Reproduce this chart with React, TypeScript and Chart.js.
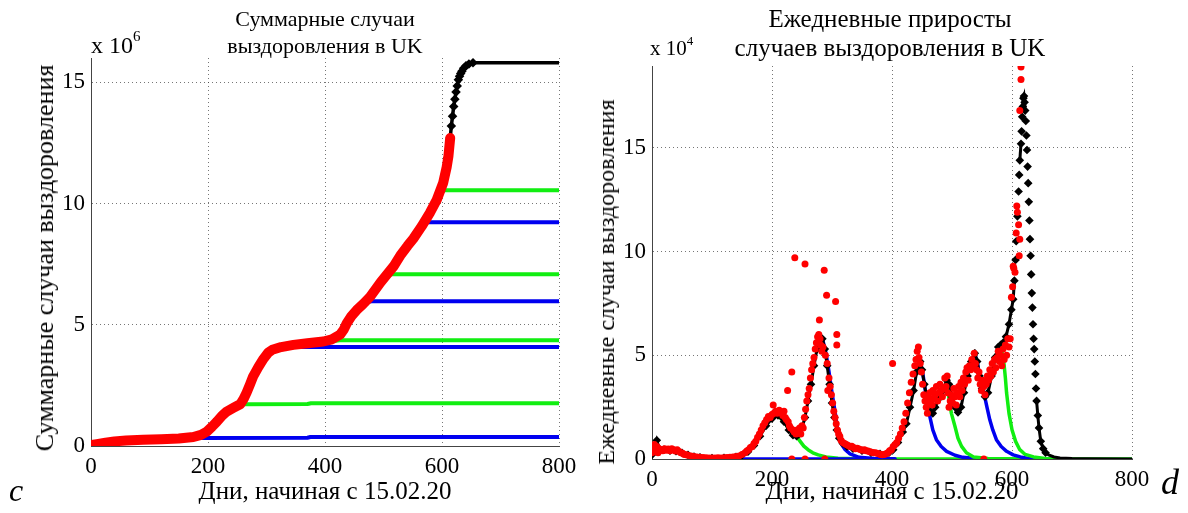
import React, { useEffect, useRef } from "react";
import { Chart, registerables } from "chart.js";

Chart.register(...registerables);

const FONT = '"Liberation Serif", "Times New Roman", serif';

// ---------- Left panel: cumulative recoveries (x 10^6) ----------
const xTicks = [0, 200, 400, 600, 800];
const leftYTicks = [0, 5, 10, 15];
const rightYTicks = [0, 5, 10, 15];

const redCumulative: [number, number][] = [
  [0, 0.04], [10, 0.08], [25, 0.14], [40, 0.19], [60, 0.23], [89, 0.26], [120, 0.28], [150, 0.31],
  [175, 0.37], [188, 0.46], [198, 0.59], [207, 0.8], [215, 1.0], [224, 1.25], [232, 1.42], [244, 1.58],
  [255, 1.72], [261, 1.95], [266, 2.2], [272, 2.55], [277, 2.86], [286, 3.25], [295, 3.6], [303, 3.85],
  [310, 3.97], [325, 4.08], [346, 4.17], [370, 4.24], [397, 4.31], [412, 4.4], [426, 4.6], [432, 4.8],
  [437, 5.05], [445, 5.35], [454, 5.6], [465, 5.85], [477, 6.15], [486, 6.45], [495, 6.75], [505, 7.05],
  [517, 7.4], [530, 7.9], [541, 8.25], [551, 8.55], [565, 9.05], [579, 9.6], [591, 10.15], [602, 10.85],
  [608, 11.5], [611, 11.95], [614, 12.7],
];
const blackCumulative: [number, number][] = [
  [605, 11.2], [610, 11.9], [614, 12.7], [616, 13.2], [618, 13.6], [620, 14.0], [622, 14.3], [624, 14.6],
  [626, 14.85], [628, 15.1], [630, 15.25], [632, 15.36], [634, 15.45], [637, 15.58], [641, 15.68],
  [646, 15.75], [653, 15.8], [700, 15.8], [800, 15.8],
];
const blueCum1: [number, number][] = [[176, 0.33], [190, 0.33], [370, 0.34], [375, 0.37], [800, 0.37]];
const greenCum1: [number, number][] = [[250, 1.66], [262, 1.72], [370, 1.73], [376, 1.76], [800, 1.76]];
const blueCum2: [number, number][] = [[330, 4.06], [345, 4.08], [800, 4.08]];
const greenCum2: [number, number][] = [[415, 4.33], [425, 4.36], [800, 4.36]];
const blueCum3: [number, number][] = [[470, 5.94], [480, 5.97], [800, 5.97]];
const greenCum3: [number, number][] = [[505, 7.05], [515, 7.08], [800, 7.08]];
const blueCum4: [number, number][] = [[565, 9.2], [572, 9.23], [800, 9.23]];
const greenCum4: [number, number][] = [[597, 10.5], [605, 10.55], [800, 10.55]];

// ---------- Right panel: daily increments (x 10^4) ----------
const redDaily: [number, number][] = [
  [0, 0.3], [2, 0.5], [4, 0.7], [6, 0.4], [8, 0.6], [10, 0.3], [12, 0.5], [15, 0.45], [18, 0.4], [21, 0.5],
  [24, 0.42], [27, 0.48], [30, 0.4], [33, 0.5], [36, 0.45], [39, 0.38], [42, 0.44], [45, 0.36], [48, 0.3],
  [51, 0.28], [54, 0.22], [57, 0.2], [60, 0.18], [65, 0.15], [70, 0.12], [75, 0.1], [80, 0.08], [85, 0.07],
  [90, 0.06], [95, 0.05], [100, 0.05], [105, 0.05], [110, 0.06], [115, 0.05], [120, 0.06], [125, 0.07],
  [130, 0.08], [135, 0.1], [140, 0.12], [145, 0.15], [150, 0.22], [155, 0.3], [158, 0.38], [161, 0.45],
  [164, 0.55], [167, 0.6], [170, 0.75], [173, 0.85], [176, 1.05], [179, 1.2], [182, 1.4], [185, 1.6],
  [188, 1.75], [191, 1.9], [194, 2.05], [197, 2.0], [200, 2.15], [202, 2.6], [203, 2.2], [206, 2.3],
  [209, 2.2], [212, 2.35], [215, 2.25], [218, 2.1], [220, 2.3], [222, 2.0], [224, 1.9], [226, 3.3],
  [227, 1.8], [229, 1.6], [231, 1.5], [233, 4.2], [233, 0], [235, 1.4], [237, 1.3], [238, 9.7], [240, 1.2],
  [242, 1.4], [244, 1.3], [246, 1.5], [248, 1.2], [250, 1.6], [252, 1.5], [254, 2.0], [255, 9.4], [255, 0],
  [256, 2.4], [258, 2.8], [260, 3.1], [262, 3.4], [264, 3.9], [266, 4.3], [268, 4.6], [270, 4.9], [272, 5.3],
  [274, 5.6], [276, 5.9], [278, 6.0], [279, 6.7], [280, 5.8], [281, 5.5], [283, 5.2], [285, 5.4], [287, 9.1],
  [288, 0], [289, 5.0], [291, 7.9], [292, 4.6], [293, 3.3], [295, 3.9], [297, 3.5], [299, 3.1], [301, 2.7],
  [303, 2.3], [305, 2.0], [306, 7.6], [307, 1.7], [308, 6.0], [308, 5.5], [309, 1.4], [311, 1.2], [313, 1.1],
  [315, 0.9], [318, 0.8], [321, 0.75], [324, 0.7], [327, 0.65], [330, 0.6], [333, 0.62], [336, 0.55],
  [339, 0.5], [342, 0.52], [345, 0.48], [348, 0.45], [351, 0.42], [354, 0.45], [357, 0.4], [360, 0.38],
  [363, 0.35], [366, 0.33], [369, 0.3], [372, 0.3], [375, 0.28], [378, 0.25], [381, 0.22], [384, 0.2],
  [387, 0.22], [390, 0.25], [393, 0.3], [396, 0.4], [399, 0.45], [401, 4.6], [402, 0.6], [405, 0.7],
  [408, 0.8], [411, 1.0], [414, 1.2], [417, 1.5], [420, 1.8], [423, 2.2], [426, 2.7], [429, 3.2], [432, 3.7],
  [435, 4.1], [438, 4.5], [440, 4.8], [442, 5.2], [444, 5.4], [445, 4.9], [447, 4.6], [449, 4.2], [451, 3.6],
  [453, 3.1], [455, 2.8], [457, 2.5], [459, 2.2], [460, 3.0], [462, 2.7], [463, 3.2], [465, 2.9], [467, 2.6],
  [468, 3.3], [470, 2.9], [472, 3.1], [474, 3.5], [476, 2.8], [478, 3.2], [480, 3.6], [482, 3.3], [484, 3.0],
  [486, 3.4], [488, 3.9], [490, 3.5], [492, 4.0], [493, 3.2], [495, 2.5], [497, 2.8], [499, 3.1], [501, 2.7],
  [503, 3.4], [505, 3.0], [507, 2.6], [509, 3.2], [511, 3.5], [513, 3.0], [515, 3.7], [517, 3.3], [519, 3.9],
  [521, 3.6], [523, 4.2], [525, 4.4], [527, 3.8], [529, 4.5], [531, 4.3], [533, 4.8], [535, 4.5], [537, 5.1],
  [539, 4.6], [541, 4.3], [543, 3.9], [545, 4.2], [547, 3.6], [549, 3.3], [551, 3.8], [553, 0], [553, 3.5],
  [555, 3.1], [557, 3.6], [559, 4.0], [561, 3.8], [563, 4.3], [565, 4.0], [567, 4.6], [569, 4.2], [571, 4.8],
  [573, 4.4], [575, 4.9], [577, 5.2], [579, 4.7], [581, 5.0], [583, 4.5], [585, 5.3], [587, 4.8], [589, 5.5],
  [591, 5.0], [593, 5.8], [595, 5.4], [597, 5.8], [599, 7.8], [601, 8.3], [602, 9.3], [603, 9.2], [605, 9.0],
  [607, 10.9], [608, 12.2], [609, 11.9], [611, 11.3], [612, 9.8], [613, 10.6], [613, 16.8], [615, 18.3],
  [615, 18.9],
];
const blackDaily: [number, number][] = [
  [0, 0.2], [4, 0.5], [8, 0.9], [12, 0.5], [20, 0.45], [30, 0.4], [40, 0.38], [50, 0.3], [60, 0.2], [70, 0.12],
  [80, 0.08], [100, 0.05], [120, 0.06], [140, 0.1], [150, 0.18], [160, 0.35], [170, 0.65], [180, 1.1],
  [190, 1.6], [200, 1.95], [210, 2.1], [215, 2.05], [220, 1.8], [228, 1.4], [235, 1.15], [241, 1.1],
  [245, 1.2], [250, 1.5], [255, 2.0], [260, 2.8], [265, 3.6], [270, 4.5], [275, 5.3], [280, 5.75], [284, 5.8],
  [288, 5.3], [292, 4.5], [296, 3.6], [300, 2.7], [304, 2.0], [308, 1.4], [312, 1.0], [318, 0.75], [325, 0.6],
  [335, 0.5], [350, 0.4], [365, 0.3], [380, 0.25], [395, 0.3], [402, 0.45], [410, 0.8], [418, 1.3], [424, 1.7],
  [430, 2.5], [436, 3.3], [441, 4.2], [444, 4.5], [447, 4.7], [450, 4.3], [454, 3.6], [457, 3.1], [461, 2.6],
  [464, 2.3], [468, 2.2], [472, 2.5], [478, 2.9], [485, 3.3], [491, 3.8], [495, 3.6], [500, 3.0], [505, 2.5],
  [510, 2.25], [515, 2.5], [520, 3.2], [526, 4.0], [532, 4.7], [538, 5.1], [542, 4.7], [546, 4.0], [550, 3.4],
  [555, 3.0], [560, 3.2], [566, 4.0], [572, 4.9], [577, 5.4], [581, 5.5], [585, 5.6], [590, 5.9], [595, 6.5],
  [599, 7.2], [602, 7.7], [604, 8.6], [606, 9.6], [607, 10.5], [609, 11.7], [611, 12.9], [612, 13.7],
  [613, 14.4], [615, 15.2], [616, 15.8], [617, 16.5], [618, 17.0], [619, 17.4], [620, 17.5], [621, 17.2],
  [622, 16.8], [623, 16.3], [624, 15.6], [625, 14.9], [626, 14.1], [627, 13.3], [628, 12.4], [629, 11.5],
  [630, 10.6], [631, 9.8], [632, 8.9], [633, 8.0], [634, 7.3], [635, 6.5], [636, 5.8], [637, 5.3], [638, 4.7],
  [639, 4.1], [640, 3.4], [641, 2.8], [643, 2.1], [645, 1.5], [648, 0.85], [652, 0.5], [656, 0.3], [661, 0.2],
  [670, 0.1], [680, 0.05], [700, 0.02], [720, 0.01], [800, 0],
];
const greenDailyA: [number, number][] = [
  [200, 1.95], [210, 2.1], [220, 1.8], [230, 1.4], [241, 1.09], [247, 0.85], [253, 0.62], [260, 0.45],
  [268, 0.3], [277, 0.2], [290, 0.1], [310, 0.04], [340, 0.01], [400, 0], [800, 0],
];
const blueBaseline: [number, number][] = [[148, 0], [250, 0], [405, 0]];
const blueDailyA: [number, number][] = [
  [282, 5.75], [285, 5.7], [290, 5.1], [295, 4.2], [300, 3.2], [305, 2.3], [311, 1.09], [316, 0.7],
  [322, 0.45], [330, 0.25], [345, 0.08], [370, 0.02], [405, 0],
];
const blueDailyB: [number, number][] = [
  [446, 4.65], [448, 4.6], [452, 4.0], [457, 3.0], [463, 2.05], [468, 1.4], [474, 0.93], [482, 0.6],
  [491, 0.37], [505, 0.18], [518, 0.08], [540, 0.02], [575, 0],
];
const greenDailyB: [number, number][] = [
  [491, 3.75], [494, 3.1], [499, 2.2], [505, 1.57], [510, 1.0], [516, 0.61], [524, 0.3],
  [536, 0.1], [560, 0.02], [610, 0],
];
const blueDailyC: [number, number][] = [
  [538, 5.05], [542, 4.7], [546, 4.0], [550, 3.4], [555, 2.94], [559, 2.4], [563, 1.89],
  [568, 1.4], [574, 0.93], [582, 0.6], [591, 0.37], [602, 0.2], [614, 0.1], [625, 0.04], [640, 0],
];
const greenDailyC: [number, number][] = [
  [583, 5.2], [586, 4.79], [589, 3.9], [591, 3.18], [595, 2.2], [600, 1.41],
  [606, 0.85], [613, 0.45], [622, 0.22], [636, 0.1], [655, 0.03], [680, 0],
];

const RED = "#ff0000";
const BLUE = "#0000f0";
const GREEN = "#11ee11";
const BLACK = "#000000";
const GRID = "rgba(60,60,60,0.7)";
const AXIS = "#444444";

const toXY = (arr: [number, number][]) => arr.map(([x, y]) => ({ x, y }));

function lineDs(data: [number, number][], color: string, width: number, order: number) {
  return {
    data: toXY(data),
    showLine: true,
    borderColor: color,
    backgroundColor: color,
    borderWidth: width,
    pointRadius: 0,
    borderCapStyle: "round" as const,
    borderJoinStyle: "round" as const,
    order,
  };
}

function makeScales(yMax: number, yTickVals: number[], yWidth: number, xHeight: number, xTickPad: number) {
  return {
    x: {
      type: "linear" as const,
      min: 0,
      max: 800,
      afterBuildTicks: (s: any) => {
        s.ticks = xTicks.map((v) => ({ value: v }));
      },
      afterFit: (s: any) => {
        s.height = xHeight;
      },
      ticks: {
        font: { family: FONT, size: 23 },
        color: "#000",
        padding: xTickPad,
        maxRotation: 0,
        autoSkip: false,
      },
      grid: { color: GRID, lineWidth: 1, drawTicks: false },
      border: { display: true, color: AXIS, width: 1, dash: [1, 3] },
      title: {
        display: true,
        text: "Дни, начиная с 15.02.20",
        font: { family: FONT, size: 25 },
        color: "#000",
        padding: { top: 0, bottom: 6 },
      },
    },
    y: {
      type: "linear" as const,
      min: 0,
      max: yMax,
      afterBuildTicks: (s: any) => {
        s.ticks = yTickVals.map((v) => ({ value: v }));
      },
      afterFit: (s: any) => {
        s.width = yWidth;
      },
      ticks: {
        font: { family: FONT, size: 23 },
        color: "#000",
        padding: 6,
        autoSkip: false,
      },
      grid: { color: GRID, lineWidth: 1, drawTicks: false },
      border: { display: true, color: AXIS, width: 1, dash: [1, 3] },
      title: { display: false },
    },
  };
}

export default function App() {
  const leftRef = useRef<HTMLCanvasElement>(null);
  const rightRef = useRef<HTMLCanvasElement>(null);

  useEffect(() => {
    const left = new Chart(leftRef.current!, {
      type: "scatter",
      data: {
        datasets: [
          lineDs(blueCum1, BLUE, 4, 10),
          lineDs(greenCum1, GREEN, 4, 9),
          lineDs(blueCum2, BLUE, 4, 8),
          lineDs(greenCum2, GREEN, 4, 7),
          lineDs(blueCum3, BLUE, 4, 6),
          lineDs(greenCum3, GREEN, 4, 5),
          lineDs(blueCum4, BLUE, 4, 4),
          lineDs(greenCum4, GREEN, 4, 3),
          {
            ...lineDs(blackCumulative, BLACK, 3.5, 2),
            pointRadius: (ctx: any) => (ctx.raw && ctx.raw.x < 660 ? 2.3 : 0),
            pointStyle: "rectRot",
          },
          lineDs(redCumulative, RED, 10, 1),
        ],
      },
      options: {
        animation: false,
        responsive: false,
        maintainAspectRatio: false,
        events: [],
        plugins: { legend: { display: false }, tooltip: { enabled: false }, title: { display: false } },
        layout: { padding: { left: 0, right: 35, top: 58, bottom: 0 } },
        scales: makeScales(16, leftYTicks, 91, 67, 7) as any,
      },
    });

    const right = new Chart(rightRef.current!, {
      type: "scatter",
      data: {
        datasets: [
          lineDs(greenDailyA, GREEN, 3.5, 13),
          lineDs(blueBaseline, BLUE, 3.5, 12),
          lineDs(blueDailyA, BLUE, 3.5, 11),
          lineDs(blueDailyB, BLUE, 3.5, 10),
          lineDs(greenDailyB, GREEN, 3.5, 9),
          lineDs(blueDailyC, BLUE, 3.5, 8),
          lineDs(greenDailyC, GREEN, 3.5, 7),
          {
            data: toXY(blackDaily),
            showLine: true,
            borderColor: BLACK,
            backgroundColor: BLACK,
            borderWidth: 3,
            pointRadius: (ctx: any) => (ctx.raw && ctx.raw.x < 660 ? 2.2 : 0),
            pointStyle: "rectRot",
            segment: {
              borderColor: (ctx: any) =>
                Math.abs((ctx.p1.parsed.y - ctx.p0.parsed.y) / (ctx.p1.parsed.x - ctx.p0.parsed.x)) > 0.45
                  ? "rgba(0,0,0,0)"
                  : BLACK,
            },
            order: 2,
          },
          {
            data: toXY(redDaily),
            showLine: false,
            borderColor: RED,
            backgroundColor: RED,
            pointRadius: 3.5,
            pointBorderWidth: 0,
            order: 1,
          },
        ],
      },
      options: {
        animation: false,
        responsive: false,
        maintainAspectRatio: false,
        events: [],
        plugins: { legend: { display: false }, tooltip: { enabled: false }, title: { display: false } },
        layout: { padding: { left: 0, right: 56, top: 66, bottom: 0 } },
        scales: makeScales(18.95, rightYTicks, 58, 54, 7) as any,
      },
    });

    return () => {
      left.destroy();
      right.destroy();
    };
  }, []);

  const txt: React.CSSProperties = {
    position: "absolute",
    fontFamily: FONT,
    color: "#000",
    whiteSpace: "pre",
    lineHeight: 1,
  };

  return (
    <div style={{ position: "fixed", left: 0, top: 0, width: 1188, height: 513, background: "#fff", overflow: "hidden" }}>
      <canvas ref={leftRef} width={594} height={513} style={{ position: "absolute", left: 0, top: 0 }} />
      <canvas ref={rightRef} width={594} height={513} style={{ position: "absolute", left: 594, top: 0 }} />
      <div style={{ ...txt, left: 325, top: 32, fontSize: 22, lineHeight: "27px", textAlign: "center", transform: "translate(-50%, -50%)" }}>
        {"Суммарные случаи\nвыздоровления в UK"}
      </div>
      <div style={{ ...txt, left: 890, top: 33, fontSize: 25, lineHeight: "29px", textAlign: "center", transform: "translate(-50%, -50%)" }}>
        {"Ежедневные приросты\nслучаев выздоровления в UK"}
      </div>
      <div style={{ ...txt, left: 45, top: 258, fontSize: 26, transform: "translate(-50%, -50%) rotate(-90deg)" }}>
        Суммарные случаи выздоровления
      </div>
      <div style={{ ...txt, left: 606, top: 282, fontSize: 24, transform: "translate(-50%, -50%) rotate(-90deg)" }}>
        Ежедневные случаи выздоровления
      </div>
      <div style={{ ...txt, left: 91, top: 33, fontSize: 24 }}>
        x 10<span style={{ fontSize: 15, position: "relative", top: -12 }}>6</span>
      </div>
      <div style={{ ...txt, left: 650, top: 38, fontSize: 21 }}>
        x 10<span style={{ fontSize: 13, position: "relative", top: -10 }}>4</span>
      </div>
      <div style={{ ...txt, left: 9, top: 474, fontSize: 32, fontStyle: "italic" }}>c</div>
      <div style={{ ...txt, left: 1161, top: 464, fontSize: 36, fontStyle: "italic" }}>d</div>
    </div>
  );
}
